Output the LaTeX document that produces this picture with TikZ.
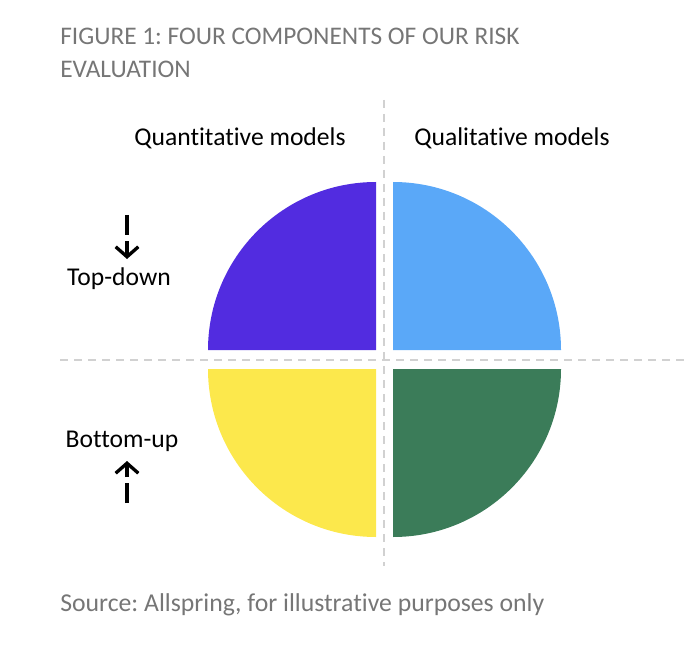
\documentclass[tikz,border=0pt]{standalone}
\usepackage{fontspec}
\setmainfont{Carlito}[Ligatures=NoCommon]
\usetikzlibrary{arrows.meta}
\frenchspacing
\definecolor{quadpurple}{RGB}{82,44,224}
\definecolor{quadblue}{RGB}{90,168,248}
\definecolor{quadyellow}{RGB}{252,232,76}
\definecolor{quadgreen}{RGB}{59,124,89}
\definecolor{captiongray}{RGB}{118,118,118}
\tikzset{
  axisline/.style={draw=black!18, line width=1.9pt, dash pattern=on 6pt off 4.5pt},
  caption/.style={text=captiongray, font=\fontsize{19}{23}\selectfont, inner sep=0pt},
  label/.style={text=black, font=\fontsize{19.2}{23}\selectfont, inner sep=0pt},
  flowarrow/.style={line width=2.5pt, dash pattern=on 15pt off 4.5pt, -{Straight Barb[length=7.5pt,width=17pt,line width=2.5pt]}}
}
\begin{document}
\begin{tikzpicture}[x=0.75pt,y=-0.75pt]
    \useasboundingbox (0,0) rectangle (688,652);

    \fill[quadpurple] (376,350) -- (208,350) arc (180:270:168) -- cycle;
    \fill[quadblue] (393,350) -- (393,182) arc (270:360:168) -- cycle;
    \fill[quadyellow] (376,369) -- (376,537) arc (90:180:168) -- cycle;
    \fill[quadgreen] (393,369) -- (561,369) arc (0:90:168) -- cycle;

    \draw[axisline] (384,100) -- (384,566);
    \draw[axisline] (60,360) -- (688,360);

    \node[caption, anchor=base west] (title1) at (60,45) {FIGURE 1: FOUR COMPONENTS OF OUR RISK};
    \node[caption, anchor=base west] (title2) at (60,78) {EVALUATION};

    \node[label] (quant) at (240,138) {Quantitative models};
    \node[label] (qual) at (512,138) {Qualitative models};

    \node[label] (topdown) at (119,279) {Top-down};
    \node[label] (bottomup) at (122,441) {Bottom-up};

    \coordinate (tdstart) at (127,215);
    \coordinate (tdend) at (127,259);
    \coordinate (bustart) at (127,503);
    \coordinate (buend) at (127,461);
    \draw[flowarrow] (tdstart) -- (tdend);
    \draw[flowarrow] (bustart) -- (buend);

    \node[caption, anchor=base west, font=\fontsize{19.3}{23}\selectfont] (source) at (60,611) {Source: Allspring, for illustrative purposes only};
\end{tikzpicture}
\end{document}
